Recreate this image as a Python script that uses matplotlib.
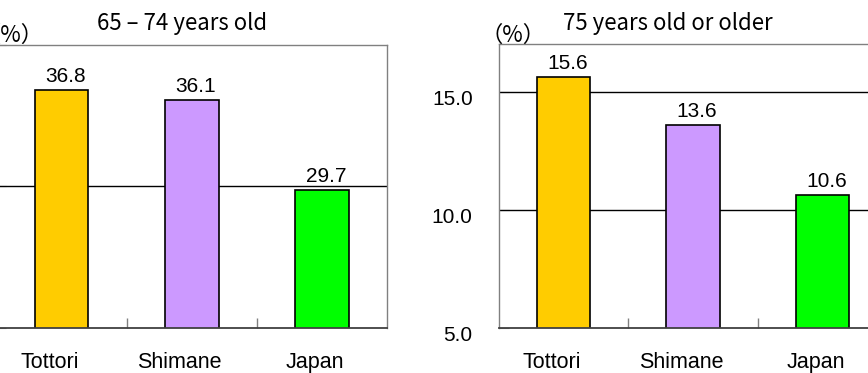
import matplotlib
matplotlib.use("Agg")
import matplotlib.pyplot as plt
from matplotlib.transforms import ScaledTranslation

# Share of population by age group
categories = ["Tottori", "Shimane", "Japan"]
values_65_74 = [36.8, 36.1, 29.7]
values_75_plus = [15.6, 13.6, 10.6]
ticks_65_74 = [20, 30, 40]
ticks_75_plus = [5, 10, 15]
titles = ["65 – 74 years old", "75 years old or older"]
unit_label = "（%）"

bar_colors = ["#FFCC00", "#CC99FF", "#00FF00"]

W, H = 868, 373
fig = plt.figure(figsize=(W / 100, H / 100), dpi=100)

num_font = "Liberation Sans"
cat_font = "Liberation Sans"
jp_font = ["Noto Sans CJK JP", "DejaVu Sans"]


def px_axes(left, top, right, bottom):
    return fig.add_axes([left / W, 1 - bottom / H, (right - left) / W, (bottom - top) / H])


def draw_panel(ax, values, yticks, ylim, show_ylabels):
    x = list(range(len(categories)))
    ax.bar(x, values, width=0.41, color=bar_colors, edgecolor="black",
           linewidth=1.2, zorder=3)
    ax.set_xlim(-0.5, len(categories) - 0.5)
    ax.set_ylim(*ylim)

    # horizontal gridlines at inner ticks
    for yv in yticks:
        if ylim[0] < yv < ylim[1]:
            ax.axhline(yv, color="black", linewidth=1.0, zorder=2)

    # y ticks
    ax.set_yticks(yticks)
    if show_ylabels:
        ax.set_yticklabels([f"{v:.1f}" for v in yticks], fontfamily=num_font, fontsize=15)
    else:
        ax.set_yticklabels([])
    ax.tick_params(axis="y", direction="in", length=7, color="#808080", pad=18.6)
    for lab in ax.get_yticklabels():
        lab.set_transform(lab.get_transform() + ScaledTranslation(0, -6 / 100, fig.dpi_scale_trans))

    # category labels and boundary ticks
    ax.set_xticks(x)
    ax.set_xticklabels(categories, fontfamily=cat_font, fontsize=15.5)
    ax.tick_params(axis="x", which="major", length=0, pad=17.8)
    offsets = [-12, -12, -7]
    for lab, dx in zip(ax.get_xticklabels(), offsets):
        lab.set_transform(lab.get_transform() + ScaledTranslation(dx / 100, 0, fig.dpi_scale_trans))
    ax.set_xticks([i + 0.5 for i in x[:-1]], minor=True)
    ax.tick_params(axis="x", which="minor", direction="in", length=7, color="#808080", width=1)

    for side in ("left", "top", "right"):
        ax.spines[side].set_color("#808080")
        ax.spines[side].set_linewidth(1.0)
    ax.spines["bottom"].set_color("#404040")
    ax.spines["bottom"].set_linewidth(1.3)
    ax.spines["bottom"].set_zorder(4)

    # value labels above bars
    for xi, v in zip(x, values):
        ax.annotate(f"{v:.1f}", (xi, v), xytext=(3, 5.8), textcoords="offset points",
                    ha="center", va="baseline", fontfamily=num_font, fontsize=15)


ax1 = px_axes(-3.7, 44.5, 387.3, 327.7)
draw_panel(ax1, values_65_74, ticks_65_74, (20, 40), show_ylabels=False)

ax2 = px_axes(498.5, 44.3, 887.5, 327.7)
draw_panel(ax2, values_75_plus, ticks_75_plus, (5, 17), show_ylabels=True)

# panel titles
fig.text(181.7 / W, 1 - 30 / H, titles[0], ha="center", va="baseline",
         fontfamily=jp_font, fontsize=16)
fig.text(668 / W, 1 - 30 / H, titles[1], ha="center", va="baseline",
         fontfamily=jp_font, fontsize=16)

# unit labels
fig.text(-21 / W, 1 - 42 / H, unit_label, ha="left", va="baseline",
         fontfamily=jp_font, fontsize=16)
fig.text(480 / W, 1 - 42 / H, unit_label, ha="left", va="baseline",
         fontfamily=jp_font, fontsize=16)

fig.savefig("out.png", dpi=100)
